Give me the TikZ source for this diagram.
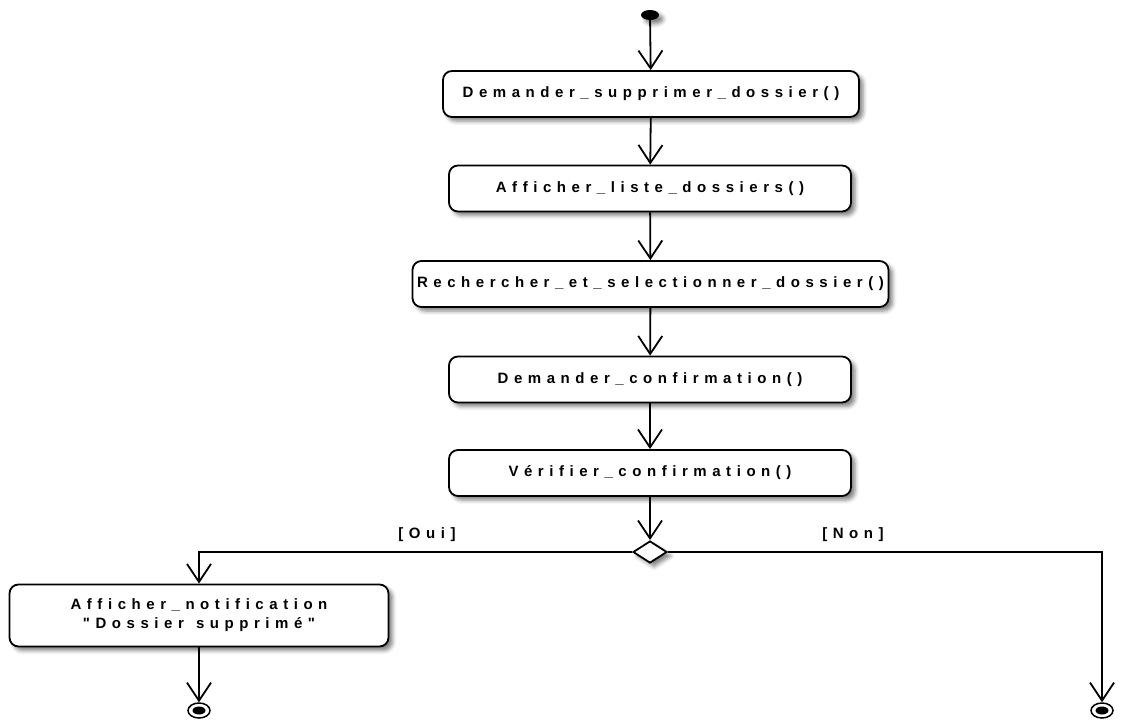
\documentclass[tikz,border=0pt]{standalone}
\usepackage{fontspec}
\setmainfont{Liberation Sans}
\newfontfamily\actfont[LetterSpace=37]{Liberation Sans}
\usetikzlibrary{arrows.meta,shapes.geometric,shadows.blur}

\tikzset{
  soft/.style={blur shadow={shadow xshift=4pt, shadow yshift=-4pt, shadow blur radius=4pt, shadow opacity=50}},
  act/.style={draw, line width=1.8pt, rounded corners=9pt, fill=white, soft,
    minimum height=46pt, inner sep=0pt, align=center,
    font=\actfont\bfseries\fontsize{15}{19}\selectfont},
  flow/.style={line width=1.8pt, -{Straight Barb[length=18pt,width=24pt,line width=1.8pt]}},
  guard/.style={font=\actfont\bfseries\fontsize{15}{19}\selectfont, inner sep=0pt},
  finalring/.style={draw, ellipse, line width=1.5pt, fill=white, minimum width=22pt, minimum height=15pt, inner sep=0pt},
}

\begin{document}
\begin{tikzpicture}[x=1pt, y=-1pt]
\useasboundingbox (0,0) rectangle (1126,720);

% initial state
\node[fill=black, ellipse, minimum width=18pt, minimum height=10pt, inner sep=0pt, soft] (start) at (650,15) {};

% activities
\node[act, minimum width=416pt] (a1) at (651,94) {Demander\_supprimer\_dossier()};
\node[act, minimum width=402pt] (a2) at (650,188.5) {Afficher\_liste\_dossiers()};
\node[act, minimum width=476pt] (a3) at (650.5,284) {Rechercher\_et\_selectionner\_dossier()};
\node[act, minimum width=402pt] (a4) at (650,379.5) {Demander\_confirmation()};
\node[act, minimum width=402pt] (a5) at (650,473) {Vérifier\_confirmation()};

% decision
\node[draw, diamond, line width=1.8pt, fill=white, soft, minimum width=34pt, minimum height=22pt, inner sep=0pt] (dec) at (650,552) {};

% notification
\node[act, minimum width=379pt, minimum height=62pt] (a6) at (199,615.5) {Afficher\_notification\\"Dossier\ \,supprimé"};

% final states
\node[finalring] (endL) at (199,710.5) {};
\node[fill=black, ellipse, minimum width=13pt, minimum height=8pt, inner sep=0pt] (endLdot) at (endL.center) {};
\node[finalring] (endR) at (1102,710.5) {};
\node[fill=black, ellipse, minimum width=13pt, minimum height=8pt, inner sep=0pt] (endRdot) at (endR.center) {};

% guards
\node[guard] (oui) at (427,535) {[Oui]};
\node[guard] (non) at (853,535) {[Non]};

% transitions
\draw[flow] (start) -- (a1);
\draw[flow] (a1) -- (a2);
\draw[flow] (a2) -- (a3);
\draw[flow] (a3) -- (a4);
\draw[flow] (a4) -- (a5);
\draw[flow] (a5) -- (dec);
\draw[flow] (dec.west) -| (a6.north);
\draw[flow] (dec.east) -| (endR.north);
\draw[flow] (a6) -- (endL);
\end{tikzpicture}
\end{document}
